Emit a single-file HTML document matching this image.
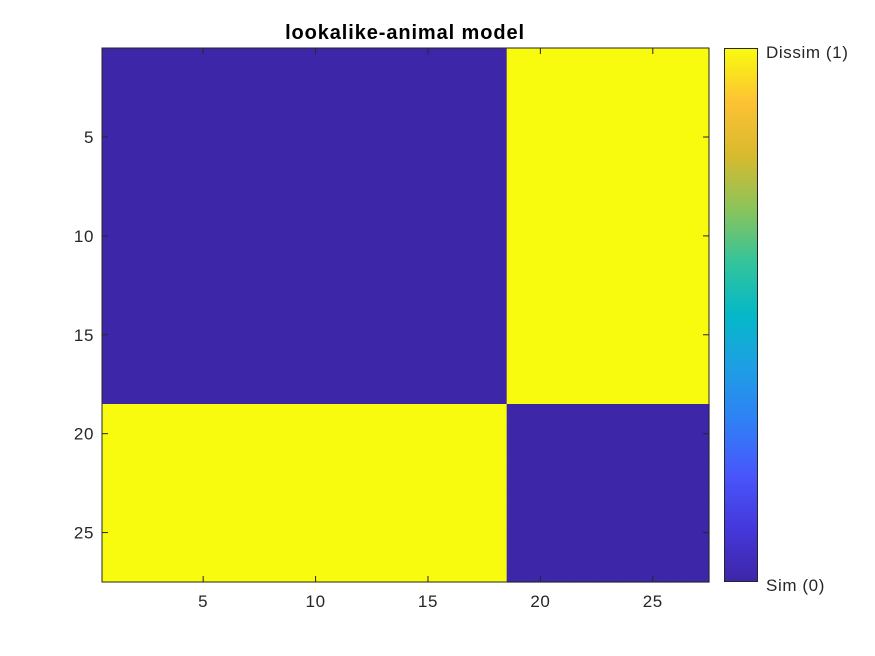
<!DOCTYPE html>
<html><head><meta charset="utf-8"><style>
html,body{margin:0;padding:0;background:#fff;}
svg{display:block;font-family:"Liberation Sans",Arial,sans-serif;}
</style></head><body>
<svg id="chart" width="875" height="656" viewBox="0 0 875 656">
<defs>
<linearGradient id="parula" x1="0" y1="1" x2="0" y2="0">
<stop offset="0" stop-color="#3e26a8"/>
<stop offset="0.1" stop-color="#4538dc"/>
<stop offset="0.2" stop-color="#4856fb"/>
<stop offset="0.3" stop-color="#2f80f6"/>
<stop offset="0.4" stop-color="#1f9ee4"/>
<stop offset="0.5" stop-color="#04b8c8"/>
<stop offset="0.6" stop-color="#34c49a"/>
<stop offset="0.7" stop-color="#8cc45a"/>
<stop offset="0.8" stop-color="#d8ba2e"/>
<stop offset="0.9" stop-color="#fdc234"/>
<stop offset="1" stop-color="#f9fb0e"/>
</linearGradient>
</defs>
<text x="405" y="39" text-anchor="middle" font-size="20" font-weight="bold" letter-spacing="0.9" fill="#000">lookalike-animal model</text>
<g id="cells"></g>
<g id="axes"></g>
<rect x="724.5" y="48.5" width="33" height="533" fill="url(#parula)" stroke="#262626" stroke-width="1"/>
<text x="766" y="58" font-size="17" letter-spacing="0.6" fill="#262626">Dissim (1)</text>
<text x="766" y="591" font-size="17" letter-spacing="0.6" fill="#262626">Sim (0)</text>
</svg>
<script>
const n = 27;
const groupSplit = 18; // items 1..18 group A, 19..27 group B
const xTicks = [5,10,15,20,25];
const yTicks = [5,10,15,20,25];
const colorLow = "#3e26a8", colorHigh = "#f9fb0e";
const L=102, R=709, T=48, B=582;
const cw=(R-L)/n, ch=(B-T)/n;
const xs=i=>L+(i-0.5)*cw, ys=i=>T+(i-0.5)*ch;
const ns="http://www.w3.org/2000/svg";
const cells=document.getElementById('cells');
for(let i=1;i<=n;i++)for(let j=1;j<=n;j++){
  const v=((i<=groupSplit)!==(j<=groupSplit))?1:0;
  const r=document.createElementNS(ns,'rect');
  r.setAttribute('x',xs(j)-cw/2);r.setAttribute('y',ys(i)-ch/2);
  r.setAttribute('width',cw+0.6);r.setAttribute('height',ch+0.6);
  r.setAttribute('fill',v?colorHigh:colorLow);
  
  
  cells.appendChild(r);
}
const ax=document.getElementById('axes');
function add(tag,attrs,text){const e=document.createElementNS(ns,tag);for(const k in attrs)e.setAttribute(k,attrs[k]);if(text!==undefined)e.textContent=text;ax.appendChild(e);return e;}
const box=add('rect',{x:L,y:T,width:R-L,height:B-T,fill:'none',stroke:'#262626','stroke-width':1});


xTicks.forEach(t=>{
  const x=xs(t);
  add('line',{x1:x,y1:B,x2:x,y2:B-6,stroke:'#262626'});
  add('line',{x1:x,y1:T,x2:x,y2:T+6,stroke:'#262626'});
  const tx=add('text',{x:x,y:B+25,'text-anchor':'middle','font-size':17,'letter-spacing':0.6,fill:'#262626'},t);
  
  
});
yTicks.forEach(t=>{
  const y=ys(t);
  add('line',{x1:L,y1:y,x2:L+6,y2:y,stroke:'#262626'});
  add('line',{x1:R,y1:y,x2:R-6,y2:y,stroke:'#262626'});
  const ty=add('text',{x:L-8,y:y+6,'text-anchor':'end','font-size':17,'letter-spacing':0.6,fill:'#262626'},t);
  
  
});
</script>
</body></html>
